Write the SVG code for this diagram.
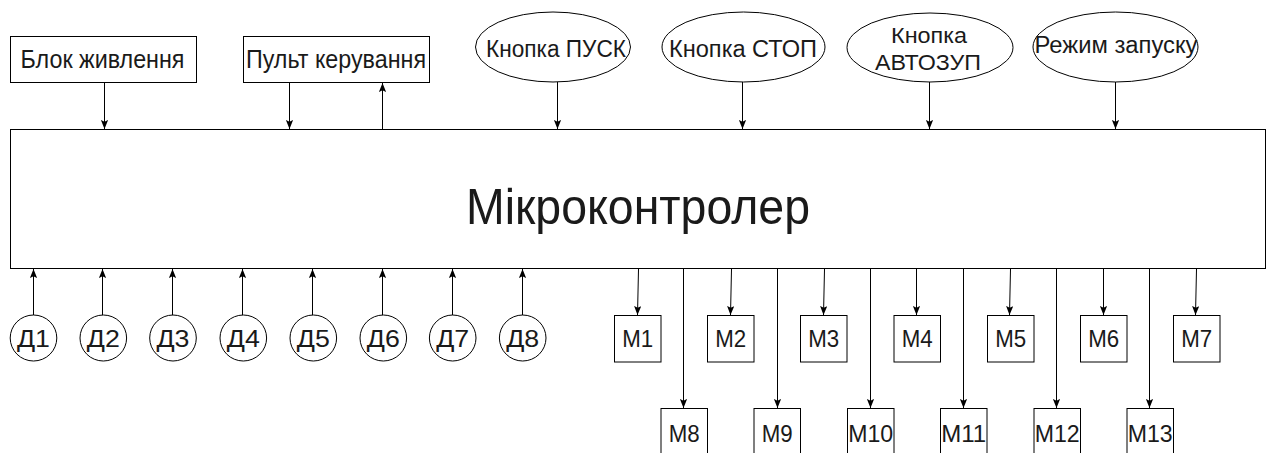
<svg xmlns="http://www.w3.org/2000/svg" width="1267" height="453" viewBox="0 0 1267 453">
<style>
.box{fill:#fff;stroke:#000;stroke-width:1}
.t{font-family:"Liberation Sans",Arial,sans-serif;fill:#1a1a1a;text-anchor:middle}
.m{font-size:23px}
.c{stroke:#000;stroke-width:1;fill:none;marker-end:url(#ah)}
</style>
<defs>
<marker id="ah" viewBox="0 0 10 8" refX="10" refY="4" markerWidth="9" markerHeight="7.2" markerUnits="userSpaceOnUse" orient="auto">
<path d="M0,0 L10,4 L0,8 L2,4 Z" fill="#000"/>
</marker>
</defs>
<rect width="1267" height="453" fill="#fff"/>
<g id="mcu"><rect class="box" x="10.5" y="129.5" width="1255" height="139"/>
<text class="t" x="638" y="224" font-size="50" textLength="344" lengthAdjust="spacingAndGlyphs">Мікроконтролер</text></g>
<g id="power"><rect class="box" x="10.5" y="36.5" width="186" height="46"/>
<text class="t" x="102.5" y="68" font-size="25" textLength="164" lengthAdjust="spacingAndGlyphs">Блок живлення</text></g>
<g id="panel"><rect class="box" x="243.5" y="36.5" width="186" height="46"/>
<text class="t" x="336" y="68" font-size="25" textLength="180" lengthAdjust="spacingAndGlyphs">Пульт керування</text></g>
<g id="btn-start"><ellipse class="box" cx="553" cy="47" rx="77.5" ry="35"/>
<text class="t" x="556" y="57" font-size="23" textLength="140" lengthAdjust="spacingAndGlyphs">Кнопка ПУСК</text></g>
<g id="btn-stop"><ellipse class="box" cx="743.5" cy="47" rx="81.5" ry="35"/>
<text class="t" x="743" y="57" font-size="23" textLength="148" lengthAdjust="spacingAndGlyphs">Кнопка СТОП</text></g>
<g id="btn-auto"><ellipse class="box" cx="930" cy="47.5" rx="83" ry="34.5"/>
<text class="t" x="929" y="43" font-size="22" textLength="76" lengthAdjust="spacingAndGlyphs">Кнопка</text>
<text class="t" x="928" y="70" font-size="22" textLength="106" lengthAdjust="spacingAndGlyphs">АВТОЗУП</text></g>
<g id="mode"><ellipse class="box" cx="1115.5" cy="47" rx="82.5" ry="35"/>
<text class="t" x="1116" y="53" font-size="23" textLength="163" lengthAdjust="spacingAndGlyphs">Режим запуску</text></g>

<g id="sensors">
<g id="d1"><ellipse class="box" cx="33.5" cy="338" rx="23.3" ry="23"/><text class="t" x="33.5" y="347" font-size="24" textLength="33" lengthAdjust="spacingAndGlyphs">Д1</text></g>
<g id="d2"><ellipse class="box" cx="103.3" cy="338" rx="23.3" ry="23"/><text class="t" x="103.3" y="347" font-size="24" textLength="33" lengthAdjust="spacingAndGlyphs">Д2</text></g>
<g id="d3"><ellipse class="box" cx="173" cy="338" rx="23.3" ry="23"/><text class="t" x="173" y="347" font-size="24" textLength="33" lengthAdjust="spacingAndGlyphs">Д3</text></g>
<g id="d4"><ellipse class="box" cx="243.3" cy="338" rx="23.3" ry="23"/><text class="t" x="243.3" y="347" font-size="24" textLength="33" lengthAdjust="spacingAndGlyphs">Д4</text></g>
<g id="d5"><ellipse class="box" cx="313.3" cy="338" rx="23.3" ry="23"/><text class="t" x="313.3" y="347" font-size="24" textLength="33" lengthAdjust="spacingAndGlyphs">Д5</text></g>
<g id="d6"><ellipse class="box" cx="383.3" cy="338" rx="23.3" ry="23"/><text class="t" x="383.3" y="347" font-size="24" textLength="33" lengthAdjust="spacingAndGlyphs">Д6</text></g>
<g id="d7"><ellipse class="box" cx="452.7" cy="338" rx="23.3" ry="23"/><text class="t" x="452.7" y="347" font-size="24" textLength="33" lengthAdjust="spacingAndGlyphs">Д7</text></g>
<g id="d8"><ellipse class="box" cx="522.7" cy="338" rx="23.3" ry="23"/><text class="t" x="522.7" y="347" font-size="24" textLength="33" lengthAdjust="spacingAndGlyphs">Д8</text></g>
</g>

<g id="motors">
<g id="m1"><rect class="box" x="614.5" y="315.5" width="46.5" height="46.5"/><text class="t m" x="637.7" y="347" textLength="31" lengthAdjust="spacingAndGlyphs">M1</text></g>
<g id="m2"><rect class="box" x="707.5" y="315.5" width="46.5" height="46.5"/><text class="t m" x="730.7" y="347" textLength="31" lengthAdjust="spacingAndGlyphs">M2</text></g>
<g id="m3"><rect class="box" x="800.5" y="315.5" width="46.5" height="46.5"/><text class="t m" x="823.7" y="347" textLength="31" lengthAdjust="spacingAndGlyphs">M3</text></g>
<g id="m4"><rect class="box" x="894" y="315.5" width="46.5" height="46.5"/><text class="t m" x="917.2" y="347" textLength="31" lengthAdjust="spacingAndGlyphs">M4</text></g>
<g id="m5"><rect class="box" x="987.5" y="315.5" width="46.5" height="46.5"/><text class="t m" x="1010.7" y="347" textLength="31" lengthAdjust="spacingAndGlyphs">M5</text></g>
<g id="m6"><rect class="box" x="1080.5" y="315.5" width="46.5" height="46.5"/><text class="t m" x="1103.7" y="347" textLength="31" lengthAdjust="spacingAndGlyphs">M6</text></g>
<g id="m7"><rect class="box" x="1173.5" y="315.5" width="46.5" height="46.5"/><text class="t m" x="1196.7" y="347" textLength="31" lengthAdjust="spacingAndGlyphs">M7</text></g>
<g id="m8"><rect class="box" x="661" y="408.5" width="46.5" height="47"/><text class="t m" x="684.2" y="442" textLength="31" lengthAdjust="spacingAndGlyphs">M8</text></g>
<g id="m9"><rect class="box" x="754" y="408.5" width="46.5" height="47"/><text class="t m" x="777.2" y="442" textLength="31" lengthAdjust="spacingAndGlyphs">M9</text></g>
<g id="m10"><rect class="box" x="847.5" y="408.5" width="46.5" height="47"/><text class="t m" x="870.7" y="442" textLength="45" lengthAdjust="spacingAndGlyphs">M10</text></g>
<g id="m11"><rect class="box" x="940.5" y="408.5" width="46.5" height="47"/><text class="t m" x="963.7" y="442" textLength="45" lengthAdjust="spacingAndGlyphs">M11</text></g>
<g id="m12"><rect class="box" x="1034" y="408.5" width="46.5" height="47"/><text class="t m" x="1057.2" y="442" textLength="45" lengthAdjust="spacingAndGlyphs">M12</text></g>
<g id="m13"><rect class="box" x="1127" y="408.5" width="46.5" height="47"/><text class="t m" x="1150.2" y="442" textLength="45" lengthAdjust="spacingAndGlyphs">M13</text></g>
</g>

<g id="connectors">
<path class="c" d="M104.5,82.5 V129"/>
<path class="c" d="M289.5,82.5 V129"/>
<path class="c" d="M382.5,129.5 V83"/>
<path class="c" d="M557.5,82 V129"/>
<path class="c" d="M742.5,82 V129"/>
<path class="c" d="M929.5,82 V129"/>
<path class="c" d="M1115.5,82 V129"/>
<path class="c" d="M33.5,315 V269"/>
<path class="c" d="M102.5,315 V269"/>
<path class="c" d="M172.5,315 V269"/>
<path class="c" d="M242.5,315 V269"/>
<path class="c" d="M312.5,315 V269"/>
<path class="c" d="M382.5,315 V269"/>
<path class="c" d="M452.5,315 V269"/>
<path class="c" d="M522.5,315 V269"/>
<path class="c" d="M638.5,269 L637.5,315"/>
<path class="c" d="M731.5,269 L730.5,315"/>
<path class="c" d="M824.5,269 L823.5,315"/>
<path class="c" d="M916.5,269 V315"/>
<path class="c" d="M1010.5,269 L1009.5,315"/>
<path class="c" d="M1103.5,269 V315"/>
<path class="c" d="M1196.5,269 L1195.5,315"/>
<path class="c" d="M683.5,269 V408"/>
<path class="c" d="M777.5,269 V408"/>
<path class="c" d="M870.5,269 V408"/>
<path class="c" d="M963.5,269 V408"/>
<path class="c" d="M1056.5,269 V408"/>
<path class="c" d="M1149.5,269 V408"/>
</g>
</svg>
